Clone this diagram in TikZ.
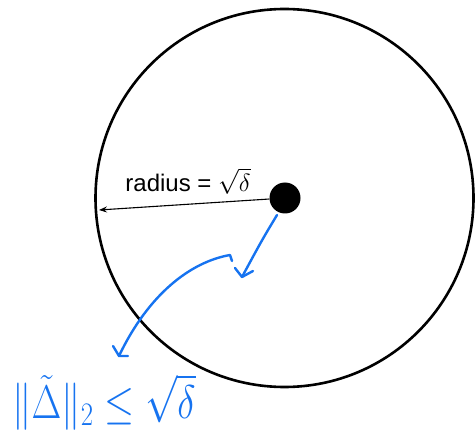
\documentclass[tikz,border=0pt]{standalone}
\usepackage{fontspec}
\setmainfont{Liberation Sans}
\usepackage{amsmath}
\usetikzlibrary{arrows.meta}
\definecolor{ink}{RGB}{22,115,240}
\tikzset{
  rim/.style={circle,draw=black,line width=2.6pt,minimum size=378pt,inner sep=0pt},
  dotnode/.style={circle,fill=black,minimum size=31pt,inner sep=0pt},
  radarrow/.style={draw=black,line width=1.1pt,-{Stealth[length=8pt,width=6pt]}},
  pen/.style={draw=ink,line width=2.4pt,line cap=round,line join=round},
  lbl/.style={font=\fontsize{24}{28}\selectfont,inner sep=0pt}
}
\begin{document}
\begin{tikzpicture}[x=1pt,y=-1pt]
\useasboundingbox (0,0) rectangle (476,438);
\node[rim] (circ) at (284.5,198) {};
\node[dotnode] (dot) at (285,198) {};
\coordinate (tip) at (99,210);
\draw[radarrow] (dot) -- (tip);
\node[lbl] (rad) at (188,181) {radius = $\sqrt{\delta}$};
% blue hand-drawn strokes
\coordinate (s1a) at (277,215);
\coordinate (s1b) at (242,277);
\coordinate (b1l) at (235,268);
\coordinate (b1r) at (253,271);
\draw[pen] (s1a) .. controls (262,240) .. (s1b);
\draw[pen] (b1l) -- (s1b) -- (b1r);
\coordinate (h0) at (232,261);
\coordinate (s2a) at (230,255);
\coordinate (s2b) at (119,356);
\coordinate (b2l) at (113,346);
\coordinate (b2r) at (128,356);
\draw[pen] (h0) -- (s2a) .. controls (190,262) and (148,295) .. (s2b);
\draw[pen] (b2l) -- (s2b) -- (b2r);
\node[text=ink,inner sep=0pt,xscale=1.55,yscale=1.9,transform shape] (eq) at (104,402) {\fontsize{24}{28}\selectfont $\|\tilde{\Delta}\|_2 \le \sqrt{\delta}$};
\end{tikzpicture}
\end{document}
